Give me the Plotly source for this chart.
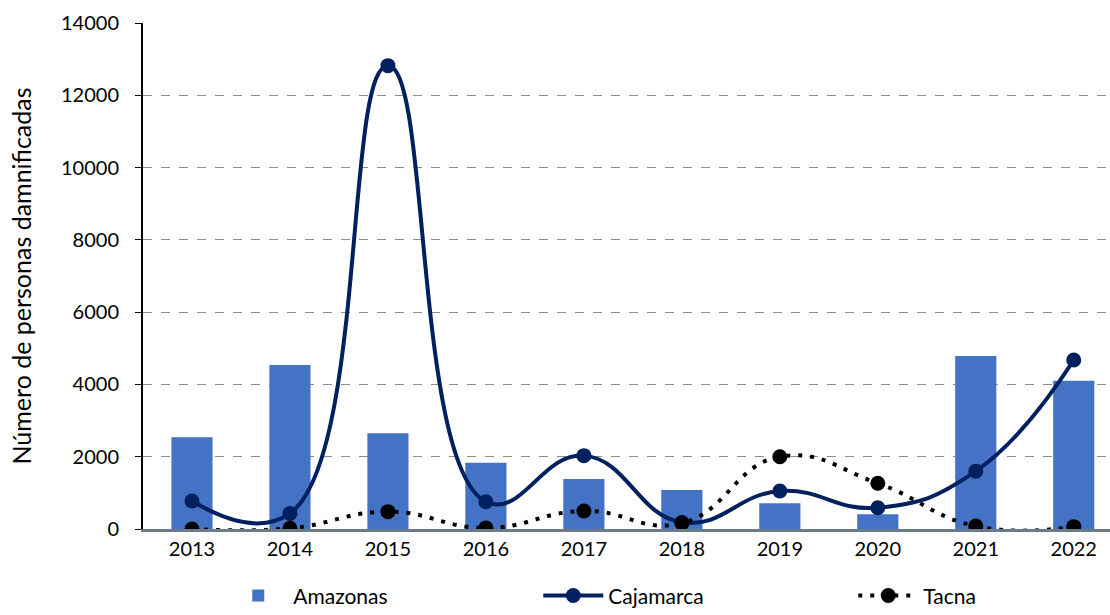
import plotly.graph_objects as go

years = ["2013", "2014", "2015", "2016", "2017", "2018", "2019", "2020", "2021", "2022"]
amazonas = [2540, 4540, 2650, 1830, 1380, 1080, 710, 410, 4790, 4100]
cajamarca = [775, 430, 12820, 755, 2030, 185, 1050, 590, 1600, 4675]
tacna = [0, 20, 480, 30, 500, 160, 2000, 1265, 80, 65]

font_family = "Lato, 'Open Sans', sans-serif"

fig = go.Figure()
fig.add_trace(go.Bar(
    x=years, y=amazonas, name="Amazonas",
    marker=dict(color="#4472C4", line=dict(width=0)),
    width=0.42,
))
fig.add_trace(go.Scatter(
    x=years, y=cajamarca, name="Cajamarca", mode="lines+markers",
    line=dict(color="#002060", width=4, shape="spline", smoothing=1.3),
    marker=dict(color="#002060", size=15),
))
fig.add_trace(go.Scatter(
    x=years, y=tacna, name="Tacna", mode="lines+markers",
    line=dict(color="#000000", width=4, dash="4px,8px", shape="spline", smoothing=1.3),
    marker=dict(color="#000000", size=15),
))

fig.update_layout(
    width=1110, height=615,
    margin=dict(l=143, r=0, t=23, b=86, autoexpand=False),
    plot_bgcolor="white", paper_bgcolor="white",
    font=dict(family=font_family, size=20, color="#000000"),
    showlegend=True,
    legend=dict(
        orientation="h", x=0.083, xanchor="left",
        y=-0.132, yanchor="middle",
        font=dict(size=21), entrywidth=240, entrywidthmode="pixels",
        itemwidth=60, bgcolor="rgba(0,0,0,0)",
    ),
    xaxis=dict(
        type="category", range=[-0.5, 9.37],
        showline=True, linecolor="#6b7b88", linewidth=3,
        showgrid=False, ticks="", tickfont=dict(size=20),
    ),
    yaxis=dict(
        range=[0, 14000], dtick=2000, tickformat="d",
        showline=True, linecolor="#000000", linewidth=2,
        ticks="outside", ticklen=6, tickcolor="#000000",
        showgrid=True, gridcolor="#8c8c8c", griddash="dash", gridwidth=1.3,
        zeroline=False, tickfont=dict(size=20),
        ticklabelstandoff=12,
        title=dict(text="Número de personas damnificadas", font=dict(size=25), standoff=22),
    ),
)

fig.write_html("out.html")
